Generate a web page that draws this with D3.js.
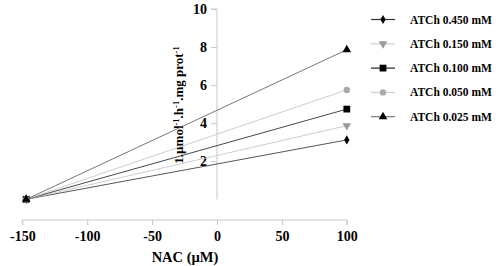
<!DOCTYPE html>
<html>
<head>
<meta charset="utf-8">
<script src="https://cdn.jsdelivr.net/npm/d3@7"></script>
<style>
  body { margin: 0; background: #fff; }
  text { font-family: "Liberation Serif", "Times New Roman", serif; font-weight: bold; }
</style>
</head>
<body>
<svg id="chart" width="500" height="266"></svg>
<script>
(() => {

    // data
    const series_names = ['ATCh 0.450 mM', 'ATCh 0.150 mM', 'ATCh 0.100 mM', 'ATCh 0.050 mM', 'ATCh 0.025 mM'];
    const x_values = [-147, 100];
    const y_at_left = [0, 0, 0, 0, 0];
    const y_at_right = [3.12, 3.87, 4.74, 5.75, 7.86];
    const symbols = ['diamond', 'triangle_down', 'square', 'circle', 'triangle'];
    const marker_colors = ['#000', '#999', '#000', '#aaa', '#000'];
    const line_colors = ['#444', '#c8c8c8', '#333', '#c8c8c8', '#666'];
    const legend_line_colors = ['#333', '#d0d0d0', '#222', '#d0d0d0', '#777'];

    const x_ticks = [-150, -100, -50, 0, 50, 100];
    const y_ticks = [2, 4, 6, 8, 10];

    // chart geometry
    const min_x_px = 22.3;
    const max_x_px = 346.8;
    const y_zero_px = 199.3;
    const y_ten_px = 9;
    const x_axis_y = 220;

    let svg = d3.select('#chart');

    let x_scale = d3.scaleLinear()
        .domain([-150, 100])
        .range([min_x_px, max_x_px]);

    let y_scale = d3.scaleLinear()
        .domain([0, 10])
        .range([y_zero_px, y_ten_px]);

    // x axis at the bottom
    let x_axis = d3.axisBottom(x_scale)
        .tickValues(x_ticks)
        .tickSize(5)
        .tickPadding(6)
        .tickFormat(d3.format('d'));

    let gx = svg.append('g')
        .attr('transform', `translate(0, ${x_axis_y})`)
        .call(x_axis);
    gx.select('.domain').attr('stroke', '#c8c8c8').attr('d', `M${min_x_px},5V0H${max_x_px}V5`);
    gx.selectAll('.tick line').attr('stroke', '#c8c8c8');
    gx.selectAll('.tick text')
        .attr('fill', '#000')
        .style('font-size', '14px')
        .style('font-family', '"Liberation Serif", serif')
        .style('font-weight', 'bold')
        .text((d) => d < 0 ? '-' + Math.abs(d) : d);

    svg.append('text')
        .attr('x', 185)
        .attr('y', 261.5)
        .attr('text-anchor', 'middle')
        .style('font-size', '14.5px')
        .text('NAC (\u00b5M)');

    // y axis through x = 0
    let y_axis = d3.axisLeft(y_scale)
        .tickValues(y_ticks)
        .tickSize(6)
        .tickPadding(4)
        .tickFormat(d3.format('d'));

    let gy = svg.append('g')
        .attr('transform', `translate(${x_scale(0)}, 0)`)
        .call(y_axis);
    gy.select('.domain').attr('stroke', '#c8c8c8').attr('d', `M-6,${y_ten_px}H0V${y_zero_px}`);
    gy.selectAll('.tick line').attr('stroke', '#c8c8c8');
    gy.selectAll('.tick text')
        .attr('fill', '#000')
        .style('font-size', '14px')
        .style('font-family', '"Liberation Serif", serif')
        .style('font-weight', 'bold');

    // y axis title with superscripts
    let y_title = svg.append('text')
        .attr('transform', 'translate(183, 105) rotate(-90)')
        .attr('text-anchor', 'middle')
        .style('font-size', '13px');
    const title_parts = [['1.\u00b5mol', false], ['-1', true], ['.h', false], ['-1', true], ['.mg prot', false], ['-1', true]];
    for (const [txt, sup] of title_parts) {
        y_title.append('tspan')
            .attr('baseline-shift', sup ? '45%' : null)
            .style('font-size', sup ? '8.5px' : null)
            .text(txt);
    }

    // symbols
    const symbol_types = {
        diamond: d3.symbolDiamond,
        triangle_down: d3.symbolTriangle,
        square: d3.symbolSquare,
        circle: d3.symbolCircle,
        triangle: d3.symbolTriangle
    };
    const symbol_sizes = { diamond: 24, triangle_down: 32, square: 46, circle: 32, triangle: 32 };

    let draw_marker = function (g, sym, color, cx, cy) {
        let rot = sym === 'triangle_down' ? ' rotate(180)' : '';
        g.append('path')
            .attr('d', d3.symbol().type(symbol_types[sym]).size(symbol_sizes[sym])())
            .attr('transform', `translate(${cx}, ${cy})${rot}`)
            .attr('fill', color);
    };

    // lines and points
    let lines_g = svg.append('g');
    let marks_g = svg.append('g');
    let line = d3.line()
        .x((d) => x_scale(d[0]))
        .y((d) => y_scale(d[1]));

    series_names.forEach((name, i) => {
        let pts = [[x_values[0], y_at_left[i]], [x_values[1], y_at_right[i]]];
        lines_g.append('path')
            .attr('d', line(pts))
            .attr('fill', 'none')
            .attr('stroke', line_colors[i])
            .attr('stroke-width', 0.9);
        for (const p of pts) {
            draw_marker(marks_g, symbols[i], marker_colors[i], x_scale(p[0]), y_scale(p[1]));
        }
    });

    // legend
    const legend_x0 = 371;
    const legend_x1 = 395;
    const legend_y0 = 19.5;
    const legend_step = 24.3;
    let legend = svg.append('g');
    series_names.forEach((name, i) => {
        let ly = legend_y0 + i * legend_step;
        legend.append('line')
            .attr('x1', legend_x0).attr('x2', legend_x1)
            .attr('y1', ly).attr('y2', ly)
            .attr('stroke', legend_line_colors[i])
            .attr('stroke-width', 1.2);
        draw_marker(legend, symbols[i], marker_colors[i], (legend_x0 + legend_x1) / 2, ly);
        legend.append('text')
            .attr('x', 410)
            .attr('y', ly + 4)
            .style('font-size', '11.5px')
            .text(name);
    });

})();
</script>
</body>
</html>
